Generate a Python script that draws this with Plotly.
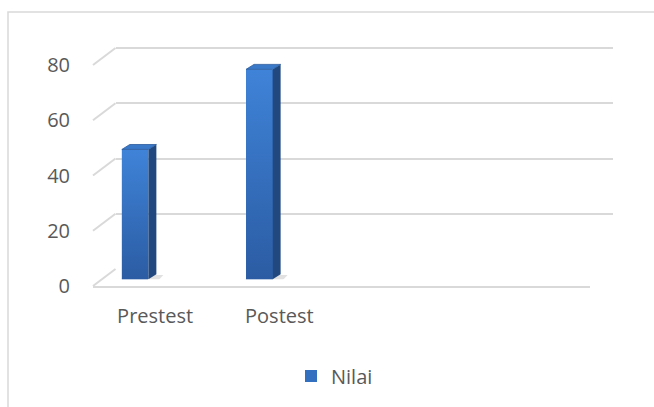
import plotly.graph_objects as go

# ---- data ----
categories = ["Prestest", "Postest"]
values = [47, 76]
series_name = "Nilai"
y_ticks = [0, 20, 40, 60, 80]

W, H = 654, 407
FONT = "Open Sans"
TXT = "#595959"
GRID = "#d9d9d9"
PXU = 221 / 80           # pixels per value unit

def px(x):
    return x / W

def py(y):
    return 1 - y / H

# geometry (pixels)
FRONT_X = (93, 590)
FRONT_Y0 = 286
BACK_X = (115.5, 612.5)
BACK_Y0 = 269
BAR_X = (73, 570)
BAR_Y0 = 279.3
YMAX = 82                # axis range top (so that 80 grid line is drawn)
NCAT = 4
BAR_W = 0.214
SIDE_DX = 0.064          # in category units
SIDE_DY = 1.8            # in value units

def ydom(y0):
    return [py(y0), py(y0 - YMAX * PXU)]

fig = go.Figure()

bx = list(range(len(categories)))
fig.add_trace(go.Bar(
    x=bx, y=values, width=BAR_W, name=series_name,
    marker=dict(color="#3470c0", line=dict(width=0)),
    xaxis="x3", yaxis="y3", showlegend=True,
))

for i, v in enumerate(values):
    l, r = i - BAR_W / 2, i + BAR_W / 2
    # soft shadow on floor
    fig.add_trace(go.Scatter(
        x=[l - 0.02, r + 0.08, r + 0.12, l + 0.04, l - 0.02],
        y=[-0.4, -0.4, 1.6, 1.6, -0.4], mode="lines",
        fill="toself", line=dict(width=0), fillcolor="rgba(120,120,120,0.22)",
        xaxis="x3", yaxis="y3", showlegend=False, hoverinfo="skip",
    ))
    # front face gradient
    fig.add_trace(go.Scatter(
        x=[l, r, r, l, l], y=[0, 0, v, v, 0], mode="lines",
        fill="toself", line=dict(width=0),
        fillgradient=dict(type="vertical",
                          colorscale=[[0, "#2b5ca3"], [1, "#3f83d8"]]),
        xaxis="x3", yaxis="y3", showlegend=False, hoverinfo="skip",
    ))
    # side face
    fig.add_trace(go.Scatter(
        x=[r, r + SIDE_DX, r + SIDE_DX, r, r],
        y=[0, SIDE_DY, v + SIDE_DY, v, 0], mode="lines",
        fill="toself", line=dict(width=0), fillcolor="#22497f",
        xaxis="x3", yaxis="y3", showlegend=False, hoverinfo="skip",
    ))
    # top face
    fig.add_trace(go.Scatter(
        x=[l, r, r + SIDE_DX, l + SIDE_DX, l],
        y=[v, v, v + SIDE_DY, v + SIDE_DY, v], mode="lines",
        fill="toself", line=dict(width=0.8, color="#2a5a9c"),
        fillcolor="#3a78c8",
        xaxis="x3", yaxis="y3", showlegend=False, hoverinfo="skip",
    ))

# invisible traces to create front and back subplots
fig.add_trace(go.Scatter(x=[0], y=[0], mode="markers", marker=dict(opacity=0),
                         xaxis="x", yaxis="y", showlegend=False, hoverinfo="skip"))
fig.add_trace(go.Scatter(x=[0], y=[0], mode="markers", marker=dict(opacity=0),
                         xaxis="x2", yaxis="y2", showlegend=False, hoverinfo="skip"))

shapes = []
for v in y_ticks:
    shapes.append(dict(
        type="line", xref="paper", yref="paper",
        x0=px(FRONT_X[0]), y0=py(FRONT_Y0 - v * PXU),
        x1=px(BACK_X[0]), y1=py(BACK_Y0 - v * PXU),
        line=dict(color=GRID, width=2), layer="below",
    ))
shapes.append(dict(type="rect", xref="paper", yref="paper",
                   x0=px(8), y0=py(12), x1=px(W + 10), y1=py(H + 10),
                   line=dict(color=GRID, width=1.5)))

fig.update_layout(
    width=W, height=H,
    margin=dict(l=0, r=0, t=0, b=0, pad=0, autoexpand=False),
    paper_bgcolor="white", plot_bgcolor="rgba(0,0,0,0)",
    font=dict(family=FONT, size=20, color=TXT),
    shapes=shapes,
    bargap=0,
    xaxis=dict(domain=[px(FRONT_X[0]), px(FRONT_X[1])], anchor="y",
               range=[-0.5, NCAT - 0.5], automargin=False,
               tickvals=bx, ticktext=categories,
               showgrid=False, zeroline=False,
               showline=True, linecolor=GRID, linewidth=2,
               ticks="", ticklabelstandoff=11,
               tickfont=dict(family=FONT, size=20, color=TXT)),
    yaxis=dict(domain=ydom(FRONT_Y0), anchor="x", automargin=False,
               range=[0, YMAX], tickvals=y_ticks,
               showgrid=False, zeroline=False, showline=False,
               ticks="", ticklabelstandoff=22,
               tickfont=dict(family=FONT, size=20, color=TXT)),
    xaxis2=dict(domain=[px(BACK_X[0]), px(BACK_X[1])], anchor="y2",
                range=[-0.5, NCAT - 0.5], visible=False, automargin=False),
    yaxis2=dict(domain=ydom(BACK_Y0), anchor="x2", automargin=False,
                range=[0, YMAX], tickvals=y_ticks, showticklabels=False,
                showgrid=True, gridcolor=GRID, gridwidth=2,
                zeroline=False, showline=False, ticks=""),
    xaxis3=dict(domain=[px(BAR_X[0]), px(BAR_X[1])], anchor="y3",
                range=[-0.5, NCAT - 0.5], visible=False, automargin=False),
    yaxis3=dict(domain=ydom(BAR_Y0), anchor="x3", automargin=False,
                range=[0, YMAX], visible=False),
    legend=dict(orientation="h", x=px(291), xanchor="left",
                y=py(376), yanchor="middle",
                font=dict(family=FONT, size=20, color=TXT),
                bgcolor="rgba(0,0,0,0)"),
    showlegend=True,
)

fig.write_html("out.html",
               config={"displayModeBar": False},
               post_script="document.body.style.margin='0';document.body.style.overflow='hidden';")
